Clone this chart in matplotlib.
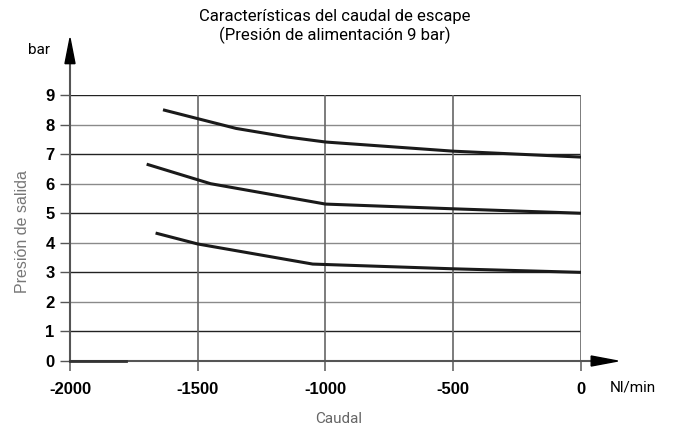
import matplotlib
matplotlib.use("Agg")
import matplotlib.pyplot as plt
from matplotlib.patches import Polygon

# curves (flow Nl/min, outlet pressure bar)
top_x = [-1636, -1500, -1350, -1150, -1000, -500, 0]
top_y = [8.50, 8.20, 7.87, 7.58, 7.41, 7.10, 6.90]
mid_x = [-1700, -1450, -1000, -500, 0]
mid_y = [6.66, 6.00, 5.31, 5.15, 5.00]
low_x = [-1665, -1500, -1050, -500, 0]
low_y = [4.33, 3.96, 3.28, 3.12, 3.00]
base_x = [-2000, -1780]
base_y = [0, 0]

x_ticks = [-2000, -1500, -1000, -500, 0]
y_ticks = list(range(0, 10))

title = "Características del caudal de escape\n(Presión de alimentación 9 bar)"

fig = plt.figure(figsize=(6.75, 4.28), dpi=100)
ax = fig.add_axes([0.1037, 0.1565, 0.757, 0.6215])
ax.set_xlim(-2000, 0)
ax.set_ylim(0, 9)

for v in y_ticks[1:]:
    col = "#222222" if v % 2 else "#8a8a8a"
    ax.axhline(v, color=col, lw=1.0, zorder=1)
for v in x_ticks[1:]:
    ax.axvline(v, color="#666666", lw=1.2, zorder=1)

for xs, ys in [(top_x, top_y), (mid_x, mid_y), (low_x, low_y)]:
    ax.plot(xs, ys, color="#1a1a1a", lw=2.2, solid_capstyle="butt", zorder=3)
ax.plot(base_x, base_y, color="#333333", lw=2.0, zorder=3, clip_on=False)

for s in ax.spines.values():
    s.set_visible(False)

ax.set_xticks(x_ticks)
ax.set_yticks(y_ticks)
ax.set_xticklabels([str(v) for v in x_ticks], fontsize=12, fontweight="bold",
                   family="Liberation Sans")
ax.set_yticklabels([str(v) for v in y_ticks], fontsize=12, fontweight="bold",
                   family="Liberation Sans")
ax.tick_params(axis="x", length=7, width=1.2, color="#666666", pad=8)
ax.tick_params(axis="y", length=7, width=1.0, color="#555555", pad=4)

# axis lines with arrow heads
ax.plot([0, 1.023], [0, 0], transform=ax.transAxes, color="#555555", lw=1.5,
        clip_on=False, zorder=2)
ax.plot([0, 0], [0, 1.12], transform=ax.transAxes, color="#555555", lw=1.5,
        clip_on=False, zorder=2)
ax.add_patch(Polygon([[1.020, 0.0188], [1.072, 0], [1.020, -0.0188]],
                     closed=True, transform=ax.transAxes, color="black",
                     clip_on=False, zorder=4))
ax.add_patch(Polygon([[-0.0098, 1.118], [0, 1.214], [0.0098, 1.118]],
                     closed=True, transform=ax.transAxes, color="black",
                     clip_on=False, zorder=4))

fig.text(0.496, 0.937, title, ha="center", va="center", fontsize=12,
         family="Roboto", linespacing=1.2)
fig.text(0.058, 0.883, "bar", ha="center", va="center", fontsize=11,
         family="Roboto")
fig.text(0.938, 0.0935, "Nl/min", ha="center", va="center", fontsize=11,
         family="Roboto")
fig.text(0.0326, 0.458, "Presión de salida", rotation=90, ha="center",
         va="center", fontsize=11.5, family="Liberation Sans", color="#777777")
fig.text(0.502, 0.021, "Caudal", ha="center", va="center", fontsize=11,
         family="Roboto", color="#666666")

fig.savefig("out.png", dpi=100)
